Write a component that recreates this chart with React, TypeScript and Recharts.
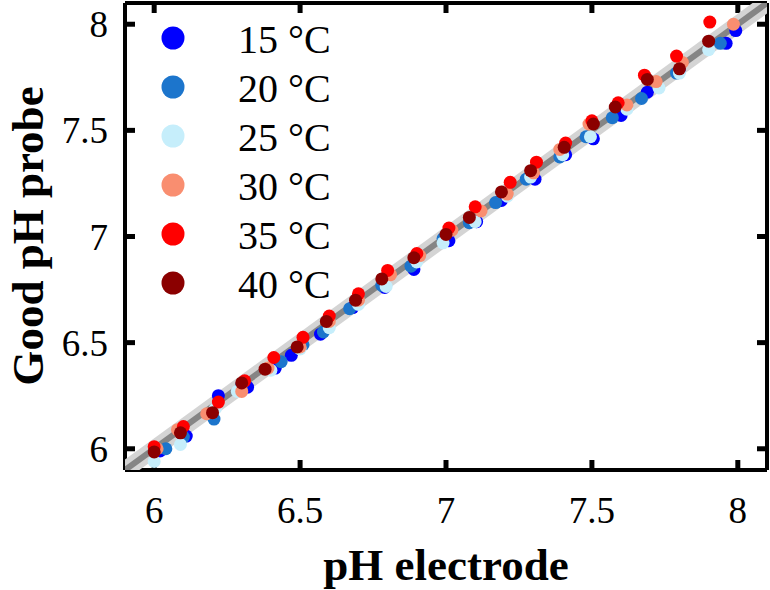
import {
  Scatter,
  ScatterChart,
  XAxis,
  YAxis,
  Legend,
  Label,
} from "recharts";

type Pair = [number, number];

// pH electrode (x) vs Good pH probe (y)
const t15: Pair[] = [
  [6.02, 5.99], [6.11, 6.06], [6.22, 6.25], [6.32, 6.29], [6.415, 6.38],
  [6.47, 6.44], [6.57, 6.54], [6.68, 6.665], [6.79, 6.76], [6.89, 6.845],
  [7.01, 6.98], [7.105, 7.07], [7.19, 7.17], [7.305, 7.27], [7.41, 7.385],
  [7.505, 7.46], [7.6, 7.57], [7.69, 7.68], [7.8, 7.78], [7.96, 7.91],
  [7.993, 7.97],
];
const t20: Pair[] = [
  [6.04, 6.0], [6.1, 6.055], [6.205, 6.14], [6.3, 6.3], [6.435, 6.41],
  [6.51, 6.49], [6.58, 6.55], [6.67, 6.66], [6.78, 6.77], [6.88, 6.86],
  [6.99, 6.99], [7.08, 7.065], [7.17, 7.16], [7.275, 7.27], [7.39, 7.375],
  [7.48, 7.47], [7.57, 7.56], [7.67, 7.65], [7.79, 7.77], [7.94, 7.91],
];
const t25: Pair[] = [
  [6.0, 5.94], [6.09, 6.02], [6.21, 6.19], [6.285, 6.27], [6.4, 6.37],
  [6.5, 6.47], [6.6, 6.57], [6.7, 6.68], [6.795, 6.765], [6.9, 6.88],
  [6.99, 6.97], [7.1, 7.07], [7.21, 7.19], [7.29, 7.28], [7.4, 7.385],
  [7.495, 7.47], [7.62, 7.6], [7.73, 7.7], [7.8, 7.77], [7.9, 7.88],
];
const t30: Pair[] = [
  [6.01, 6.0], [6.08, 6.09], [6.18, 6.165], [6.3, 6.27], [6.39, 6.38],
  [6.5, 6.48], [6.6, 6.6], [6.7, 6.7], [6.81, 6.82], [6.91, 6.91],
  [7.02, 7.03], [7.12, 7.12], [7.21, 7.2], [7.3, 7.3], [7.39, 7.41],
  [7.49, 7.53], [7.62, 7.62], [7.72, 7.73], [7.81, 7.82], [7.985, 8.0],
];
const t35: Pair[] = [
  [6.0, 6.01], [6.1, 6.105], [6.22, 6.22], [6.31, 6.32], [6.41, 6.43],
  [6.51, 6.525], [6.6, 6.625], [6.7, 6.73], [6.8, 6.84], [6.9, 6.92],
  [7.01, 7.04], [7.1, 7.14], [7.22, 7.255], [7.31, 7.35], [7.41, 7.44],
  [7.5, 7.545], [7.59, 7.63], [7.68, 7.76], [7.79, 7.85], [7.904, 8.01],
];
const t40: Pair[] = [
  [6.0, 5.985], [6.09, 6.075], [6.2, 6.17], [6.3, 6.31], [6.38, 6.375],
  [6.49, 6.48], [6.59, 6.6], [6.69, 6.7], [6.78, 6.8], [6.89, 6.9],
  [7.0, 7.01], [7.08, 7.09], [7.19, 7.21], [7.29, 7.31], [7.405, 7.42],
  [7.505, 7.53], [7.58, 7.61], [7.69, 7.74], [7.8, 7.79], [7.9, 7.92],
];

// 1:1 reference line
const identity: Pair[] = [[5.8, 5.8], [8.2, 8.2]];

const ticks = [6, 6.5, 7, 7.5, 8];
const labels = ["15 °C", "20 °C", "25 °C", "30 °C", "35 °C", "40 °C"];
const colors = ["#0000ff", "#1c75cc", "#c6eefb", "#f98e70", "#ff0000", "#8b0000"];
const seriesData = [t15, t20, t25, t30, t35, t40];

const FONT = '"Liberation Serif", "Times New Roman", serif';

const toPoints = (p: Pair[]) => p.map(([x, y]) => ({ x, y }));

const Dot = (props: any) => {
  const { cx, cy, fill } = props;
  if (cx == null || cy == null) return <g />;
  return <circle cx={cx} cy={cy} r={6.5} fill={fill} />;
};

const renderLegend = () => (
  <svg width={340} height={310}>
    {labels.map((name, i) => (
      <g key={name}>
        <circle cx={173} cy={38 + i * 49} r={11.5} fill={colors[i]} />
        <text
          x={238}
          y={38 + i * 49 + 15}
          fontFamily={FONT}
          fontSize={40}
          fill="#000"
        >
          {name}
        </text>
      </g>
    ))}
  </svg>
);

const axisCommon = {
  type: "number" as const,
  domain: [5.9, 8.1],
  allowDataOverflow: true,
  ticks,
  tickSize: -10,
  axisLine: { stroke: "#000", strokeWidth: 4 },
  tickLine: { stroke: "#000", strokeWidth: 5 },
  tick: { fill: "#000", fontSize: 37, fontFamily: FONT },
};

export default function App() {
  return (
    <div
      style={{
        position: "absolute",
        top: 0,
        left: 0,
        width: 770,
        height: 590,
        overflow: "hidden",
        background: "#fff",
      }}
    >
      <ScatterChart
        width={770}
        height={590}
        margin={{ top: 2, right: 2, left: 0, bottom: 0 }}
      >
        <XAxis
          {...axisCommon}
          dataKey="x"
          xAxisId={0}
          height={120}
          tickMargin={37}
          tickFormatter={(v: number) => String(v)}
        >
          <Label
            content={() => (
              <text
                x={446}
                y={580}
                textAnchor="middle"
                fontFamily={FONT}
                fontSize={45}
                fontWeight="bold"
                fill="#000"
              >
                pH electrode
              </text>
            )}
          />
        </XAxis>
        <XAxis
          {...axisCommon}
          dataKey="x"
          xAxisId="top"
          orientation="top"
          height={1}
          tickFormatter={() => ""}
        />
        <YAxis
          {...axisCommon}
          dataKey="y"
          yAxisId={0}
          width={125}
          tickMargin={27}
          tickFormatter={(v: number) => String(v)}
        >
          <Label
            content={() => (
              <text
                transform="translate(43,236) rotate(-90)"
                textAnchor="middle"
                fontFamily={FONT}
                fontSize={45}
                fontWeight="bold"
                fill="#000"
              >
                Good pH probe
              </text>
            )}
          />
        </YAxis>
        <YAxis
          {...axisCommon}
          dataKey="y"
          yAxisId="right"
          orientation="right"
          width={1}
          tickFormatter={() => ""}
        />
        <Scatter
          data={toPoints(identity)}
          xAxisId="top"
          yAxisId="right"
          line={{ stroke: "#d4d4d4", strokeWidth: 17 }}
          shape={() => <g />}
          legendType="none"
          isAnimationActive={false}
        />
        <Scatter
          data={toPoints(identity)}
          xAxisId="top"
          yAxisId="right"
          line={{ stroke: "#858585", strokeWidth: 6 }}
          shape={() => <g />}
          legendType="none"
          isAnimationActive={false}
        />
        {seriesData.map((d, i) => (
          <Scatter
            key={labels[i]}
            name={labels[i]}
            data={toPoints(d)}
            fill={colors[i]}
            shape={Dot}
            isAnimationActive={false}
          />
        ))}
        <Legend
          layout="vertical"
          align="center"
          verticalAlign="middle"
          content={renderLegend}
          wrapperStyle={{ position: "absolute", top: 0, left: 0, width: 340, height: 310 }}
        />
      </ScatterChart>
    </div>
  );
}
